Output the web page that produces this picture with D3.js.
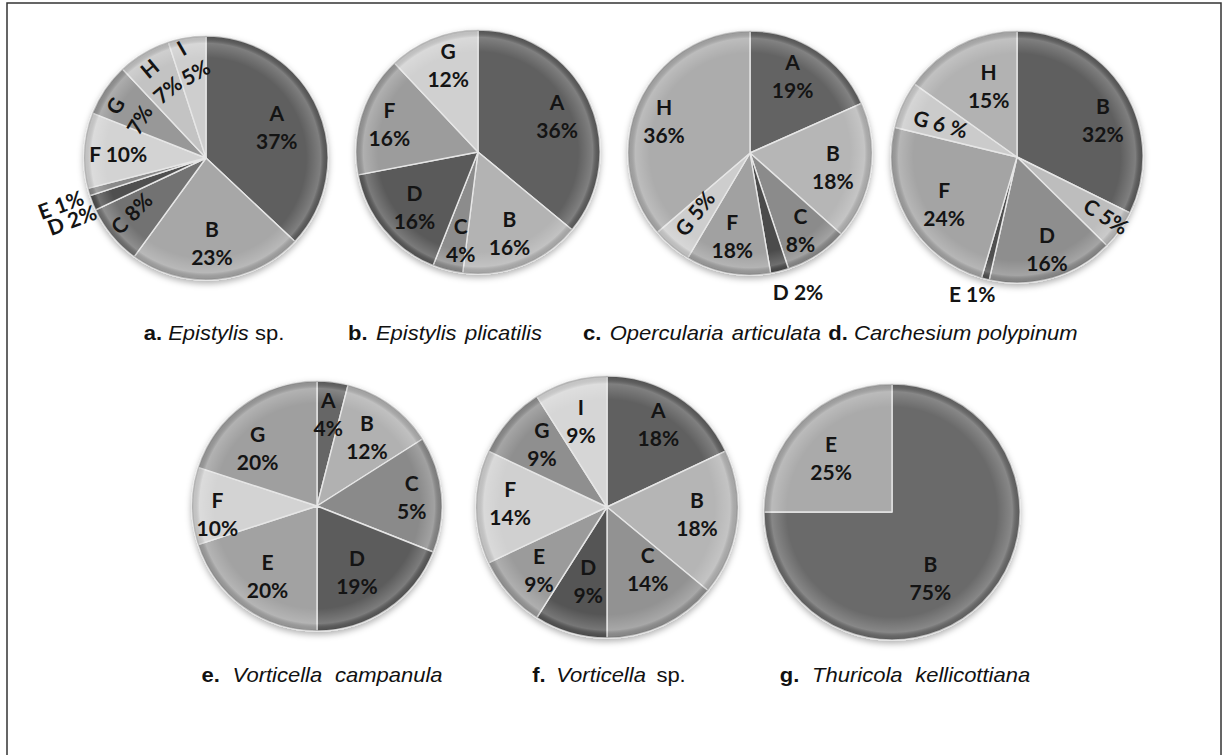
<!DOCTYPE html>
<html><head><meta charset="utf-8">
<script src="https://cdn.jsdelivr.net/npm/d3@7"></script>
<style>body{margin:0;background:#fff} svg{display:block}</style>
</head><body><svg id="c" width="1227" height="755"></svg>
<script>
// ---------- data ----------
const catsA = ["A","B","C","D","E","F","G","H","I"];
const valsA = [37,23,8,2,1,10,7,7,5];
const pctA  = ["37%","23%","8%","2%","1%","10%","7%","7%","5%"];

const catsB = ["A","B","C","D","F","G"];
const valsB = [36,16,4,16,16,12];
const pctB  = ["36%","16%","4%","16%","16%","12%"];

const catsC = ["A","B","C","D","F","G","H"];
const valsC = [18.3,18.2,8.3,2.4,11.2,5.2,36.2];   // slice sizes as drawn
const pctC  = ["19%","18%","8%","2%","18%","5%","36%"]; // printed labels

const catsD = ["B","C","D","E","F","G","H"];
const valsD = [32,5,16,1,24,6,15];
const pctD  = ["32%","5%","16%","1%","24%","6 %","15%"];

const catsE = ["A","B","C","D","E","F","G"];
const valsE = [4,12,15,19,20,10,20];                 // slice sizes as drawn
const pctE  = ["4%","12%","5%","19%","20%","10%","20%"];

const catsF = ["A","B","C","D","E","F","G","I"];
const valsF = [18,18,14,9,9,14,9,9];
const pctF  = ["18%","18%","14%","9%","9%","14%","9%","9%"];

const catsG = ["B","E"];
const valsG = [75,25];
const pctG  = ["75%","25%"];

const capLetters = ["a.","b.","c.","d.","e.","f.","g."];
const capNames   = ["Epistylis","Epistylis plicatilis","Opercularia articulata","Carchesium polypinum","Vorticella campanula","Vorticella","Thuricola kellicottiana"];
const capSuffix  = [" sp.","","","",""," sp.",""];

// ---------- styles / layout ----------
const colA = ["#5e5e5e","#a7a7a7","#727272","#505050","#8a8a8a","#d3d3d3","#989898","#c3c3c3","#cecece"];
const colB = ["#606060","#b3b3b3","#8c8c8c","#5a5a5a","#9c9c9c","#d0d0d0"];
const colC = ["#646464","#b6b6b6","#8b8b8b","#4b4b4b","#a1a1a1","#cdcdcd","#acacac"];
const colD = ["#5f5f5f","#bdbdbd","#8e8e8e","#505050","#a4a4a4","#cbcbcb","#b2b2b2"];
const colE = ["#666666","#b1b1b1","#8a8a8a","#5c5c5c","#a2a2a2","#d3d3d3","#9f9f9f"];
const colF = ["#616161","#b5b5b5","#929292","#555555","#9b9b9b","#d0d0d0","#8f8f8f","#d6d6d6"];
const colG = ["#6a6a6a","#aaaaaa"];

// label placement: k = fraction of radius, ang = angle (deg, clockwise from top), rot, mode
const labA = [
  {k:.63,ang:67},{k:.70,ang:176},{k:.76,ang:233,mode:"inline",rot:-45},
  {k:1.21,ang:245,mode:"inline",rot:-20},{k:1.25,ang:252,mode:"inline",rot:-20},
  {k:.72,ang:272,mode:"inline"},{k:.74,ang:300,rot:-60},{k:.75,ang:329,rot:-40},{k:.81,ang:350,rot:-30}];
const labB = [{k:.71,ang:66},{k:.72,ang:159},{k:.74,ang:191},{k:.69,ang:229},{k:.76,ang:287},{k:.75,ang:341}];
const labC = [{k:.72,ang:29},{k:.69,ang:100},{k:.76,ang:147},{k:1.21,ang:161,mode:"inline"},
  {k:.70,ang:192},{k:.67,ang:222,mode:"inline",rot:-52},{k:.75,ang:290}];
const labD = [{k:.74,ang:67},{k:.85,ang:124,mode:"inline",rot:32},{k:.77,ang:162},{k:1.15,ang:198,mode:"inline"},
  {k:.69,ang:237},{k:.66,ang:293,mode:"inline",rot:15},{k:.60,ang:338}];
const labE = [{k:.74,ang:7},{k:.68,ang:36},{k:.76,ang:85},{k:.62,ang:149},{k:.69,ang:215},{k:.80,ang:265},{k:.66,ang:314}];
const labF = [{k:.74,ang:32},{k:.69,ang:95},{k:.57,ang:147},{k:.59,ang:194},{k:.71,ang:227},{k:.74,ang:272},{k:.69,ang:314},{k:.68,ang:343}];
const labG = [{k:.60,ang:150},{k:.63,ang:311}];

const pies = [
  {cx:206,cy:158,r:122,cats:catsA,vals:valsA,pct:pctA,col:colA,lab:labA},
  {cx:478,cy:152,r:122,cats:catsB,vals:valsB,pct:pctB,col:colB,lab:labB},
  {cx:750,cy:153,r:122,cats:catsC,vals:valsC,pct:pctC,col:colC,lab:labC},
  {cx:1017,cy:157,r:126,cats:catsD,vals:valsD,pct:pctD,col:colD,lab:labD},
  {cx:317,cy:506,r:125,cats:catsE,vals:valsE,pct:pctE,col:colE,lab:labE},
  {cx:607,cy:507,r:131,cats:catsF,vals:valsF,pct:pctF,col:colF,lab:labF},
  {cx:892,cy:512,r:128,cats:catsG,vals:valsG,pct:pctG,col:colG,lab:labG}
];
const capPos = [{x:214,y:340},{x:445,y:340},{x:702,y:340},{x:953,y:340},{x:322,y:682},{x:609,y:682},{x:905,y:682}];
const capWordSpacing = [0,2,2,0,6,4,6];

const svg = d3.select("#c");
const defs = svg.append("defs");
const rg = defs.append("radialGradient").attr("id","rim");
[[0,"#fff",0],[0.82,"#fff",0],[0.94,"#fff",0.2],[0.985,"#000",0.08],[1,"#000",0.25]].forEach(s=>
  rg.append("stop").attr("offset",s[0]).attr("stop-color",s[1]).attr("stop-opacity",s[2]));
const f = defs.append("filter").attr("id","sh").attr("x","-20%").attr("y","-20%").attr("width","140%").attr("height","140%");
f.append("feDropShadow").attr("dx",0).attr("dy",3).attr("stdDeviation",3).attr("flood-color","#000").attr("flood-opacity",0.3);

// frame
svg.append("rect").attr("x",7).attr("y",3).attr("width",1214).attr("height",760)
  .attr("fill","none").attr("stroke","#333").attr("stroke-width",1.5);

const pieGen = d3.pie().sort(null).value(d=>d.v);
const LH = 28;

pies.forEach((p,pi)=>{
  const items = p.cats.map((c,i)=>({c, v:p.vals[i], t:p.pct[i], col:p.col[i], lab:p.lab[i]}));
  const arcs = pieGen(items);
  const arc = d3.arc().innerRadius(0).outerRadius(p.r);
  const g = svg.append("g").attr("transform",`translate(${p.cx},${p.cy})`);
  const sg = g.append("g").attr("filter","url(#sh)");
  sg.selectAll("path").data(arcs).join("path")
    .attr("d",arc).attr("fill",d=>d.data.col)
    .attr("stroke","#e6e6e6").attr("stroke-width",1.4).attr("stroke-linejoin","round");
  g.append("circle").attr("r",p.r).attr("fill","url(#rim)").attr("pointer-events","none");

  arcs.forEach(a=>{
    const L = a.data.lab;
    const ang = (L.ang!=null ? L.ang : (a.startAngle+a.endAngle)/2*180/Math.PI)*Math.PI/180;
    const x = Math.sin(ang)*L.k*p.r, y = -Math.cos(ang)*L.k*p.r;
    const lg = g.append("g").attr("transform",`translate(${x},${y}) rotate(${L.rot||0})`)
      .style("font-family","Lato, 'Open Sans', sans-serif").style("font-weight","bold")
      .style("font-size","21px").attr("fill","#141414").attr("text-anchor","middle");
    if (L.mode==="inline"){
      lg.append("text").attr("dy","0.35em").text(a.data.c+" "+a.data.t);
    } else {
      lg.append("text").attr("y",-LH/2).attr("dy","0.35em").text(a.data.c);
      lg.append("text").attr("y",LH/2).attr("dy","0.35em").text(a.data.t);
    }
  });
});

// captions
capLetters.forEach((l,i)=>{
  const t = svg.append("text")
    .attr("transform",`translate(${capPos[i].x},${capPos[i].y}) scale(1.1,1)`)
    .attr("text-anchor","middle").attr("fill","#111")
    .style("font-family","'Liberation Sans', Arial, sans-serif").style("font-size","20px")
    .style("word-spacing",capWordSpacing[i]+"px");
  t.append("tspan").style("font-weight","bold").text(l+" ");
  t.append("tspan").style("font-style","italic").text(capNames[i]);
  if (capSuffix[i]) t.append("tspan").text(capSuffix[i]);
});
</script></body></html>
